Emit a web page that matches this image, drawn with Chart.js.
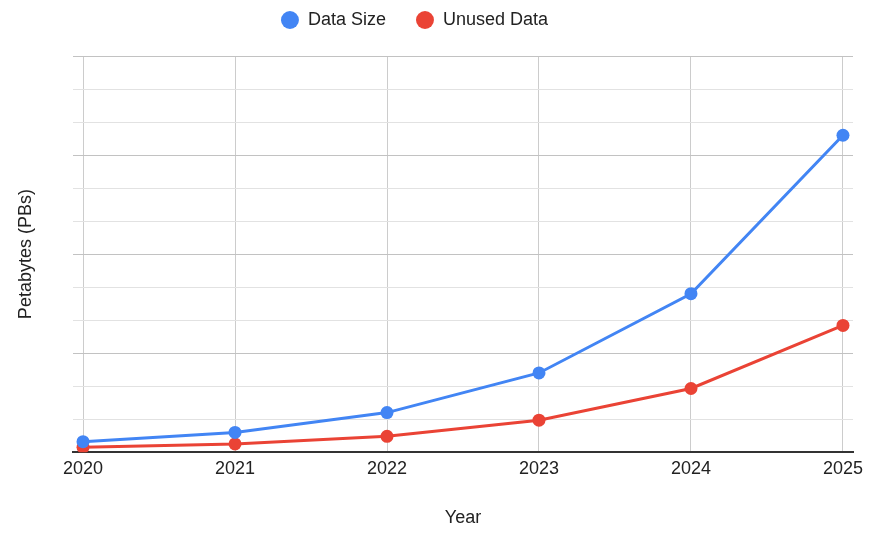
<!DOCTYPE html>
<html>
<head>
<meta charset="utf-8">
<script src="https://cdn.jsdelivr.net/npm/chart.js@4"></script>
<style>
  html, body { margin: 0; padding: 0; background: #fff; }
  #wrap { width: 875px; height: 537px; }
</style>
</head>
<body>
<div id="wrap"><canvas id="chart"></canvas></div>
<script>
// values (one minor gridline = 10 units)
const YEARS = [2020, 2021, 2022, 2023, 2024, 2025];
const DATA_SIZE = [3.2, 6, 12, 24, 48, 96];
const UNUSED_DATA = [1.5, 2.5, 4.8, 9.7, 19.3, 38.4];

const FONT = { family: "'Liberation Sans', Arial, sans-serif", size: 18 };
const TEXT_COLOR = '#222';

function toPoints(values) {
    return YEARS.map((year, i) => ({ x: year, y: values[i] }));
}

function lineSeries(label, values, color) {
    return {
        label,
        data: toPoints(values),
        borderColor: color,
        backgroundColor: color,
        borderWidth: 3,
        pointRadius: 6.5,
        pointHoverRadius: 6.5,
        pointBorderWidth: 0,
        tension: 0,
        fill: false,
    };
}

// legend placement: wide item spacing but kept close to the top, nudged left
const legendTweak = {
    id: 'legendTweak',
    beforeInit(chart) {
        const fit = chart.legend.fit;
        chart.legend.fit = function () {
            fit.call(this);
            this.height -= 2;
        };
    },
    afterLayout(chart) {
        const legend = chart.legend;
        legend.top -= 19;
        legend.bottom -= 19;
        legend.right -= 24;
        legend.width -= 24;
    },
};

new Chart(document.getElementById('chart'), {
    type: 'line',
    data: {
        datasets: [
            lineSeries('Data Size', DATA_SIZE, '#4285F4'),
            lineSeries('Unused Data', UNUSED_DATA, '#EA4335'),
        ],
    },
    options: {
        responsive: true,
        maintainAspectRatio: false,
        animation: false,
        layout: { padding: { top: 0, right: 22, bottom: 0, left: 0 } },
        plugins: {
            legend: {
                display: true,
                labels: {
                    color: TEXT_COLOR,
                    font: FONT,
                    padding: 30,
                    usePointStyle: true,
                    pointStyle: 'circle',
                    boxHeight: 12.7,
                },
            },
            tooltip: { enabled: false },
        },
        scales: {
            x: {
                type: 'linear',
                min: YEARS[0] - 0.066,
                max: YEARS[YEARS.length - 1] + 0.066,
                afterBuildTicks: axis => { axis.ticks = YEARS.map(v => ({ value: v })); },
                ticks: { color: TEXT_COLOR, font: FONT, padding: 6, maxRotation: 0, callback: v => String(v) },
                grid: { color: '#cccccc', drawTicks: false },
                border: { display: true, color: '#333333', width: 2 },
                title: { display: true, text: 'Year', color: TEXT_COLOR, font: FONT, padding: { top: 21.6, bottom: 8 } },
            },
            y: {
                min: 0,
                max: 120,
                ticks: { display: false, stepSize: 10 },
                grid: {
                    drawTicks: false,
                    color: ctx => (ctx.tick.value % 30 === 0 ? '#c2c2c2' : '#e2e2e2'),
                },
                border: { display: false },
                title: { display: true, text: 'Petabytes (PBs)', color: TEXT_COLOR, font: FONT, padding: { top: 15.2, bottom: 36.2 } },
            },
        },
    },
    plugins: [legendTweak],
});
</script>
</body>
</html>
